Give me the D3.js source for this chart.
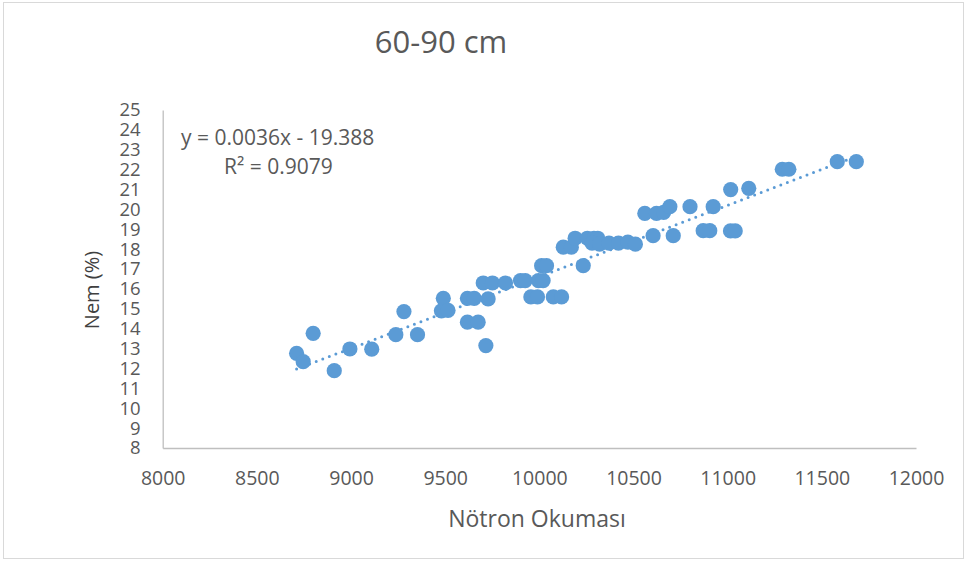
<!DOCTYPE html>
<html>
<head>
<meta charset="utf-8">
<script src="https://cdn.jsdelivr.net/npm/d3@7"></script>
<style>
  body { margin: 0; background: #fff; }
  text { font-family: "Open Sans", sans-serif; fill: #595959; }
</style>
</head>
<body>
<div id="chart"></div>
<script>
// Nötron okuması (x) ve nem yüzdesi (y), 60-90 cm derinlik
const notron = [8711, 8746, 8799, 8911, 8994, 9110, 9238, 9281, 9353, 9490,
  9480, 9515, 9618, 9654, 9728, 9618, 9675, 9716, 9702, 9751,
  9820, 9900, 9925, 9995, 10020, 9955, 9990, 10074, 10118, 10012,
  10038, 10233, 10127, 10170, 10190, 10255, 10290, 10310, 10280, 10320,
  10370, 10420, 10470, 10510, 10604, 10711, 10560, 10622, 10660, 10693,
  10800, 10870, 10905, 10923, 11015, 11040, 11016, 11112, 11290, 11325,
  11582, 11683];
const nem = [12.76, 12.34, 13.77, 11.89, 12.98, 12.97, 13.7, 14.86, 13.7, 15.53,
  14.9, 14.92, 15.53, 15.53, 15.5, 14.33, 14.33, 13.15, 16.3, 16.3,
  16.3, 16.42, 16.42, 16.42, 16.42, 15.6, 15.6, 15.6, 15.6, 17.17,
  17.17, 17.17, 18.1, 18.1, 18.55, 18.55, 18.55, 18.55, 18.3, 18.25,
  18.3, 18.3, 18.35, 18.25, 18.68, 18.68, 19.8, 19.8, 19.85, 20.14,
  20.14, 18.93, 18.93, 20.14, 18.92, 18.92, 21.0, 21.06, 22.02, 22.02,
  22.4, 22.4];
const xTicks = [8000, 8500, 9000, 9500, 10000, 10500, 11000, 11500, 12000];
const yTicks = d3.range(8, 26);
const egim = 0.0036, kesim = -19.388;
const denklem = "y = 0.0036x - 19.388";
const r2Text = "R² = 0.9079";

const width = 968, height = 565;
const plot = {left: 162.7, right: 916, top: 110, bottom: 448};

const svg = d3.select("#chart").append("svg")
  .attr("width", width).attr("height", height);

// chart border
svg.append("rect")
  .attr("x", 3.5).attr("y", 2.5).attr("width", 960).attr("height", 556)
  .attr("fill", "none").attr("stroke", "#D9D9D9");

const x = d3.scaleLinear().domain([8000, 12000]).range([plot.left, plot.right]);
const y = d3.scaleLinear().domain([8, 25]).range([plot.bottom, plot.top]);

// axes
const xAxis = svg.append("g")
  .attr("transform", `translate(0,${plot.bottom})`)
  .call(d3.axisBottom(x).tickValues(xTicks).tickSize(0).tickPadding(23).tickFormat(d3.format("d")));
const yAxis = svg.append("g")
  .attr("transform", `translate(${plot.left},0)`)
  .call(d3.axisLeft(y).tickValues(yTicks).tickSize(0).tickPadding(22));
[xAxis, yAxis].forEach(a => {
  a.select(".domain").attr("stroke", "#BFBFBF").attr("stroke-width", 1.3);
  a.selectAll("text").attr("font-family", "Open Sans").attr("fill", "#595959");
});
xAxis.selectAll("text").attr("font-size", 19.5);
yAxis.selectAll("text").attr("font-size", 18.5);

// trendline
const xs = d3.extent(notron);
svg.append("line")
  .attr("x1", x(xs[0])).attr("y1", y(egim * xs[0] + kesim))
  .attr("x2", x(xs[1])).attr("y2", y(egim * xs[1] + kesim))
  .attr("stroke", "#5B9BD5").attr("stroke-width", 3)
  .attr("stroke-linecap", "round").attr("stroke-dasharray", "0 7");

// points
svg.append("g").selectAll("circle")
  .data(notron.map((d, i) => [d, nem[i]]))
  .enter().append("circle")
  .attr("cx", d => x(d[0]))
  .attr("cy", d => y(d[1]))
  .attr("r", 7.6)
  .attr("fill", "#5B9BD5");

// texts
svg.append("text").attr("x", 441).attr("y", 53)
  .attr("text-anchor", "middle").attr("font-size", 31).text("60-90 cm");
svg.append("text").attr("x", 181).attr("y", 145)
  .attr("font-size", 21).text(denklem);
svg.append("text").attr("x", 224).attr("y", 174)
  .attr("font-size", 21).text(r2Text);
svg.append("text").attr("x", 537).attr("y", 527)
  .attr("text-anchor", "middle").attr("font-size", 23).text("Nötron Okuması");
svg.append("text")
  .attr("transform", "translate(99,290) rotate(-90)")
  .attr("text-anchor", "middle").attr("font-size", 20)
  .style("fill", "#404040").text("Nem (%)");
</script>
</body>
</html>
